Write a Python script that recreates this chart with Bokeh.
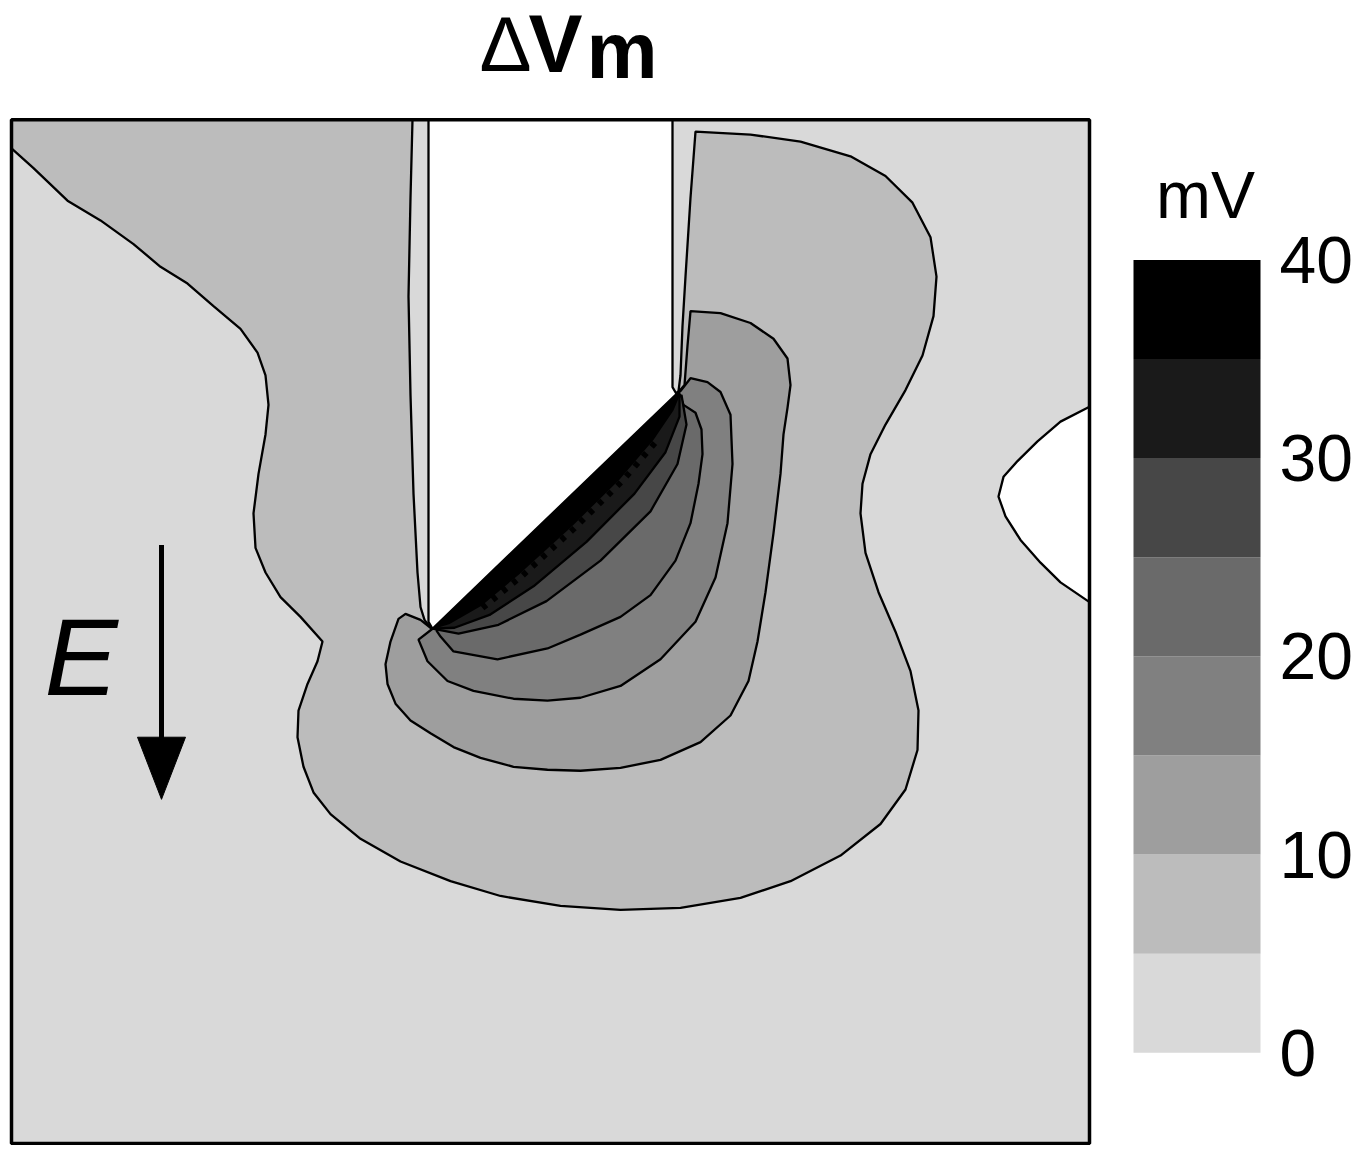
from bokeh.plotting import figure
from bokeh.models import Range1d
from bokeh.embed import file_html
from bokeh.resources import INLINE
from bokeh.core.properties import value

FONT = "Liberation Sans"

# ---- data ---------------------------------------------------------------
levels = [0, 5, 10, 15, 20, 25, 30, 35, 40]                      # mV
grays = ["#d9d9d9", "#bcbcbc", "#9e9e9e", "#808080",
         "#6a6a6a", "#474747", "#1a1a1a", "#000000"]
tick_values = [0, 10, 20, 30, 40]
tick_labels = ["0", "10", "20", "30", "40"]

# domain extent (grid units, y grows downward)
domain_x = (11, 1089)
domain_y = (121, 1159)

# iso-regions: region >= level
region_5 = [(11, 121), (412, 121), (410, 200), (408, 300), (410, 400), (413, 500), (417, 580),
            (420, 615), (424, 628), (430, 636), (678, 396), (680, 380), (682, 330), (685, 280),
            (690, 200), (695, 133), (750, 136), (800, 143), (850, 158), (885, 178), (912, 205),
            (930, 240), (936, 280), (933, 320), (922, 360), (905, 395), (885, 430), (870, 460),
            (862, 490), (860, 520), (865, 560), (878, 600), (895, 640), (910, 680), (918, 720),
            (917, 760), (905, 800), (880, 835), (840, 867), (790, 893), (740, 910), (680, 920),
            (620, 922), (560, 918), (500, 908), (450, 893), (400, 873), (360, 850), (330, 825),
            (313, 803), (303, 777), (297, 747), (298, 720), (307, 693), (317, 670), (322, 650),
            (300, 625), (280, 605), (265, 580), (255, 555), (253, 520), (258, 480), (265, 440),
            (268, 410), (265, 380), (257, 357), (240, 333), (213, 310), (187, 287), (160, 270),
            (133, 247), (100, 223), (67, 203), (33, 170), (11, 150)]
region_10 = [(405, 622), (398, 627), (390, 650), (385, 673), (387, 693), (395, 713), (410, 730),
             (430, 743), (453, 757), (480, 768), (513, 777), (547, 780), (580, 781), (620, 778),
             (660, 770), (700, 752), (730, 725), (748, 690), (757, 650), (765, 600), (773, 540),
             (780, 480), (783, 440), (787, 413), (790, 390), (787, 363), (773, 343), (750, 327),
             (720, 317), (690, 315), (687, 350), (684, 390), (678, 397), (430, 636), (420, 628)]
region_15 = [(432, 637), (418, 648), (427, 670), (447, 690), (473, 700), (513, 708), (547, 710),
             (580, 707), (620, 695), (660, 668), (695, 630), (715, 585), (727, 530), (732, 470),
             (730, 420), (720, 397), (707, 387), (690, 383), (680, 396)]
region_20 = [(436, 639), (440, 645), (453, 660), (497, 668), (547, 657), (580, 643),
             (620, 625), (650, 603), (675, 568), (690, 530), (698, 490), (702, 460), (701, 435),
             (695, 418), (683, 410), (679, 399)]
region_25 = [(432, 637), (458, 642), (498, 633), (546, 609), (600, 568), (650, 518), (677, 470),
             (686, 430), (681, 400)]
region_30 = [(432, 637), (454, 636), (489, 623), (533, 594), (586, 549), (634, 500), (665, 458),
             (679, 422), (679, 400)]
region_35 = [(430, 637), (449, 631), (480, 613), (519, 580), (570, 533), (619, 484), (652, 445),
             (672, 415), (679, 398)]
regions = [region_5, region_10, region_15, region_20, region_25, region_30, region_35]
# ragged (staircase) edge of the 35 mV level
ragged_35 = [(482, 616), (522, 583), (573, 536), (622, 487), (655, 448)]

# outside the computational domain (electrode) and the negative pocket on the right
electrode = [(428, 121), (428, 630), (432, 637), (676, 399), (672, 392), (672, 121)]
negative_pocket = [(1089, 412), (1060, 427), (1037, 447), (1017, 467), (1003, 483), (998, 503),
                   (1005, 523), (1020, 547), (1040, 570), (1060, 590), (1089, 610)]

# ---- figure -------------------------------------------------------------
p = figure(width=1354, height=1145, x_range=Range1d(0, 1354), y_range=Range1d(1161, 0),
           x_axis_type=None, y_axis_type=None, min_border=0,
           output_backend="svg", toolbar_location=None)
p.outline_line_color = None
p.background_fill_color = "white"
p.border_fill_color = "white"
p.extra_y_ranges = {"cbar": Range1d(start=(1067 - 1161) / 20.1, end=1067 / 20.1)}

# background level
p.quad(left=[domain_x[0]], right=[domain_x[1]], top=[domain_y[0]], bottom=[domain_y[1]],
       fill_color=grays[0], line_color=None)

for reg, col in zip(regions, grays[1:]):
    xs = [pt[0] for pt in reg]
    ys = [pt[1] for pt in reg]
    p.patch(xs, ys, fill_color=col, line_color="black", line_width=2.3)

p.line([pt[0] for pt in ragged_35], [pt[1] for pt in ragged_35], line_color="black",
       line_width=6, line_dash="5 8")

for reg in (electrode, negative_pocket):
    p.patch([pt[0] for pt in reg], [pt[1] for pt in reg], fill_color="white",
            line_color="black", line_width=2.3)

# frame of the domain
p.quad(left=[domain_x[0]], right=[domain_x[1]], top=[domain_y[0]], bottom=[domain_y[1]],
       fill_color=None, line_color="black", line_width=3.5)

# title  ΔVm
p.text(x=[479], y=[44], text=["\u0394"], text_font=value(FONT), text_font_size="78px",
       text_baseline="middle", text_align="left", text_color="black")
p.text(x=[528], y=[44], text=["V"], text_font=value(FONT), text_font_size="81px",
       text_font_style="bold", text_baseline="middle", text_align="left", text_color="black")
p.text(x=[586], y=[51], text=["m"], text_font=value(FONT), text_font_size="80px",
       text_font_style="bold", text_baseline="middle", text_align="left", text_color="black")

# field direction
p.text(x=[44], y=[665], text=["E"], text_font=value(FONT), text_font_size="110px",
       text_font_style="italic", text_baseline="middle", text_align="left", text_color="black")
p.segment(x0=[161], y0=[552], x1=[161], y1=[760], line_color="black", line_width=5)
p.patch([137, 185, 161], [747, 747, 810], fill_color="black", line_color="black", line_width=1)

# colour bar
p.quad(left=1133, right=1260, bottom=levels[:-1], top=levels[1:], fill_color=grays,
       line_color=None, y_range_name="cbar")
p.text(x=[1279] * len(tick_values), y=tick_values, text=tick_labels, y_range_name="cbar",
       text_font=value(FONT), text_font_size="66px", text_baseline="middle",
       text_align="left", text_color="black")
p.text(x=[1205], y=[197], text=["mV"], text_font=value(FONT), text_font_size="66px",
       text_baseline="middle", text_align="center", text_color="black")

open("out.html", "w").write(file_html(p, INLINE))
